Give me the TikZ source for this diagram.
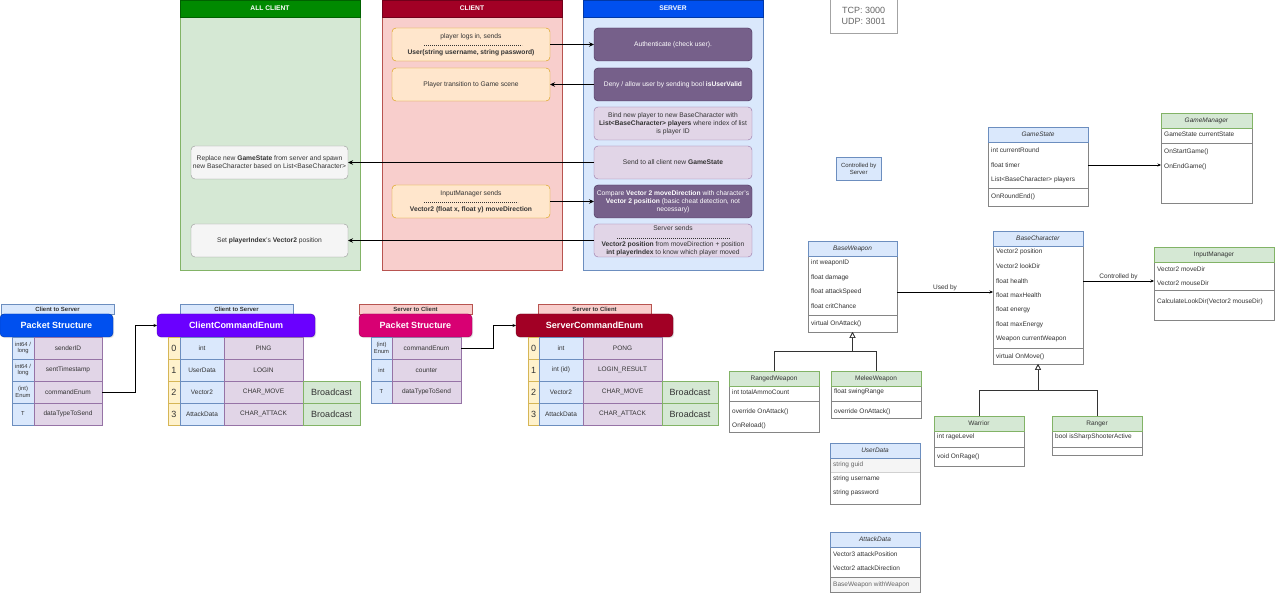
\documentclass[tikz,border=0pt]{standalone}
\usepackage{fontspec}
\setmainfont{Liberation Sans}
\usetikzlibrary{arrows.meta,shadows}
\definecolor{hgreen}{HTML}{008A00}
\definecolor{lgreen}{HTML}{D5E8D4}
\definecolor{dgreen}{HTML}{82B366}
\definecolor{hred}{HTML}{A20025}
\definecolor{lred}{HTML}{F8CECC}
\definecolor{dred}{HTML}{B85450}
\definecolor{hblue}{HTML}{0050EF}
\definecolor{lblue}{HTML}{DAE8FC}
\definecolor{dblue}{HTML}{6C8EBF}
\definecolor{lorange}{HTML}{FFE6CC}
\definecolor{dorange}{HTML}{D79B00}
\definecolor{lgray}{HTML}{F5F5F5}
\definecolor{dgray}{HTML}{666666}
\definecolor{ppurple}{HTML}{76608A}
\definecolor{ppurpled}{HTML}{432D57}
\definecolor{lpurple}{HTML}{E1D5E7}
\definecolor{dpurple}{HTML}{9673A6}
\definecolor{violettwo}{HTML}{6A00FF}
\definecolor{magentatwo}{HTML}{D80073}
\definecolor{lyellow}{HTML}{FFF2CC}
\definecolor{dyellow}{HTML}{D6B656}
\definecolor{txt}{HTML}{333333}
\newcommand\szm{\fontsize{6.7}{8}\selectfont}
\newcommand\szc{\fontsize{6.5}{8}\selectfont}
\newcommand\szs{\fontsize{5.8}{6.6}\selectfont}
\newcommand\szt{\fontsize{6}{7}\selectfont}
\newcommand\szl{\fontsize{9}{10.7}\selectfont}
\begin{document}
\begin{tikzpicture}[x=1pt,y=-1pt,
  shd/.style={drop shadow={opacity=0.2,shadow xshift=1.2pt,shadow yshift=-1.2pt}},
  lanehead/.style={anchor=north west,inner sep=0pt,outer sep=0pt,minimum width=180pt,minimum height=17pt,text=white,font=\szm\bfseries},
  lanebody/.style={anchor=north west,inner sep=0pt,outer sep=0pt,minimum width=180pt,minimum height=253pt,draw,shd},
  fbox/.style={anchor=north west,draw,rounded corners=4pt,inner sep=1pt,outer sep=0pt,minimum width=158pt,minimum height=33pt,align=center,font=\szm,text=txt},
  obox/.style={fbox,fill=lorange,draw=dorange},
  gbox/.style={fbox,fill=lgray,draw=dgray!70,minimum width=157pt},
  dbox/.style={fbox,fill=ppurple,draw=ppurpled,text=white},
  lbox/.style={fbox,fill=lpurple,draw=dpurple},
  bigarrow/.style={line width=1.1pt,-{Stealth[length=5pt,width=4.5pt]}},
  dline/.style={dash pattern=on 1.4pt off 0.6pt,line width=0.35pt,draw=txt},
  tcell/.style={anchor=north west,draw,inner sep=0pt,outer sep=0pt,align=center,font=\szc,text=txt,minimum height=22pt},
  bcell/.style={tcell,fill=lblue,draw=dblue},
  pcell/.style={tcell,fill=lpurple,draw=dpurple},
  ycell/.style={tcell,fill=lyellow,draw=dyellow,font=\szl},
  gcell/.style={tcell,fill=lgreen,draw=dgreen,font=\szl},
  ptab/.style={anchor=north west,draw,inner sep=0pt,outer sep=0pt,minimum height=10pt,minimum width=113pt,font=\szt\bfseries,text=txt},
  phead/.style={anchor=north west,rounded corners=4pt,inner sep=0pt,outer sep=0pt,minimum height=23pt,text=white,font=\szl\bfseries,shd},
  thinarrow/.style={draw=black,line width=0.5pt,-{Stealth[length=3.5pt,width=3pt]}},
  cbody/.style={anchor=north west,draw=dgray!80,fill=white,inner sep=0pt,outer sep=0pt,minimum width=89pt,shd},
  chb/.style={anchor=north west,draw=dblue,fill=lblue,inner sep=0pt,outer sep=0pt,minimum width=89pt,minimum height=15pt,font=\szc,text=txt},
  chg/.style={chb,draw=dgreen,fill=lgreen},
  crow/.style={anchor=west,inner sep=0pt,font=\szc,text=txt},
  csep/.style={draw=dgray!80,line width=0.5pt},
  inherit/.style={draw=txt,line width=0.6pt,-{Triangle[open,length=6pt,width=6pt]}},
  clabel/.style={font=\szc,text=txt,inner sep=1pt}
]
\useasboundingbox[fill=white] (0,0) rectangle (1280,601);

% ---------- swimlanes ----------
\node[lanebody,fill=lgreen,draw=dgreen] (allb) at (180,17) {};
\node[lanehead,fill=hgreen,draw=hgreen!70!black] (allh) at (180,0) {ALL CLIENT};
\node[lanebody,fill=lred,draw=dred] (clb) at (382,17) {};
\node[lanehead,fill=hred,draw=hred!70!black] (clh) at (382,0) {CLIENT};
\node[lanebody,fill=lblue,draw=dblue] (svb) at (583,17) {};
\node[lanehead,fill=hblue,draw=hblue!70!black] (svh) at (583,0) {SERVER};

% client boxes
\node[obox] (c1) at (392,28) {player logs in, sends\\[8pt]\textbf{User(string username, string password)}};
\draw[dline] (424,45) -- (522,45);
\node[obox] (c2) at (392,68) {Player transition to Game scene};
\node[obox] (c3) at (392,185) {InputManager sends\\[8pt]\textbf{Vector2 (float x, float y) moveDirection}};
\draw[dline] (424,202) -- (518,202);

% all client boxes
\node[gbox] (a1) at (191,146) {Replace new \textbf{GameState} from server and spawn\\new BaseCharacter based on List<BaseCharacter>};
\node[gbox] (a2) at (191,224) {Set \textbf{playerIndex}'s \textbf{Vector2} position};

% server boxes
\node[dbox] (s1) at (594,28) {Authenticate (check user).};
\node[dbox] (s2) at (594,68) {Deny / allow user by sending bool \textbf{isUserValid}};
\node[lbox] (s3) at (594,107) {Bind new player to new BaseCharacter with\\\textbf{List<BaseCharacter> players} where index of list\\is player ID};
\node[lbox] (s4) at (594,146) {Send to all client new \textbf{GameState}};
\node[dbox] (s5) at (594,185) {Compare \textbf{Vector 2 moveDirection} with character's\\\textbf{Vector 2 position} (basic cheat detection, not\\necessary)};
\node[lbox,font=\fontsize{6.7}{7.4}\selectfont] (s6) at (594,224) {Server sends\\[9.5pt]\textbf{Vector2 position} from moveDirection + position\\\textbf{int playerIndex} to know which player moved};
\draw[dline] (617,238) -- (730,238);

% lane arrows
\draw[bigarrow] (c1.east) -- (s1.west);
\draw[bigarrow] (s2.west) -- (c2.east);
\draw[bigarrow] (s4.west) -- (a1.east);
\draw[bigarrow] (c3.east) -- (s5.west);
\draw[bigarrow] (s6.west) -- (a2.east);

% TCP box and note
\node[anchor=north west,draw=dgray!60,fill=white,minimum width=67pt,minimum height=34pt,align=center,font=\szl,text=dgray,inner sep=0pt,shd] (tcp) at (830,-1) {TCP: 3000\\UDP: 3001};
\node[anchor=north west,draw=dblue,fill=lblue,minimum width=45pt,minimum height=23pt,inner sep=0pt,align=center,font=\szt,text=txt,shd] (cbs) at (836,157) {Controlled by\\Server};

% ---------- packet structure: client to server ----------
\node[ptab,fill=lblue,draw=dblue] (cptab) at (1,304) {Client to Server};
\node[phead,fill=hblue,draw=hblue!70!black,minimum width=113pt] (cph) at (0,314) {Packet Structure};
\foreach \a/\b [count=\k from 0] in {{int64 /\\long}/senderID,{int64 /\\long}/sentTimestamp,{(int)\\Enum}/commandEnum,T/dataTypeToSend} {
  \node[bcell,minimum width=22pt,font=\szs] (cpa\k) at (12,{337+22*\k}) {\a};
  \node[pcell,minimum width=68pt] (cpb\k) at (34,{337+22*\k}) {\b};
}
\node[ptab,fill=lblue,draw=dblue] (cctab) at (180,304) {Client to Server};
\node[phead,fill=violettwo,draw=violettwo!70!black,minimum width=158pt] (cceh) at (157,314) {ClientCommandEnum};
\foreach \n/\ty/\m [count=\k from 0] in {0/int/PING,1/UserData/LOGIN,2/Vector2/CHAR\_MOVE,3/AttackData/CHAR\_ATTACK} {
  \node[ycell,minimum width=12pt] (ccn\k) at (168,{337+22*\k}) {\n};
  \node[bcell,minimum width=44pt] (cct\k) at (180,{337+22*\k}) {\ty};
  \node[pcell,minimum width=79pt] (ccm\k) at (224,{337+22*\k}) {\m};
}
\node[gcell,minimum width=57pt] (ccb2) at (303,381) {Broadcast};
\node[gcell,minimum width=57pt] (ccb3) at (303,403) {Broadcast};
\draw[thinarrow] (cpb2.east) -- ++(33,0) |- (cceh.west);

% ---------- packet structure: server to client ----------
\node[ptab,fill=lred,draw=dred] (sptab) at (359,304) {Server to Client};
\node[phead,fill=magentatwo,draw=magentatwo!70!black,minimum width=113pt] (sph) at (359,314) {Packet Structure};
\foreach \a/\b [count=\k from 0] in {{(int)\\Enum}/commandEnum,int/counter,T/dataTypeToSend} {
  \node[bcell,minimum width=21pt,font=\szs] (spa\k) at (371,{337+22*\k}) {\a};
  \node[pcell,minimum width=69pt] (spb\k) at (392,{337+22*\k}) {\b};
}
\node[ptab,fill=lred,draw=dred] (sctab) at (538,304) {Server to Client};
\node[phead,fill=hred,draw=hred!70!black,minimum width=157pt] (scch) at (516,314) {ServerCommandEnum};
\foreach \n/\ty/\m [count=\k from 0] in {0/int/PONG,1/int (id)/LOGIN\_RESULT,2/Vector2/CHAR\_MOVE,3/AttackData/CHAR\_ATTACK} {
  \node[ycell,minimum width=11pt] (scn\k) at (528,{337+22*\k}) {\n};
  \node[bcell,minimum width=44pt] (sct\k) at (539,{337+22*\k}) {\ty};
  \node[pcell,minimum width=79pt] (scm\k) at (583,{337+22*\k}) {\m};
}
\node[gcell,minimum width=56pt] (scb2) at (662,381) {Broadcast};
\node[gcell,minimum width=56pt] (scb3) at (662,403) {Broadcast};
\draw[thinarrow] (spb0.east) -- ++(32,0) |- (scch.west);

% ---------- class diagram ----------
% BaseWeapon
\node[cbody,minimum height=91pt] (bw) at (808,241) {};
\node[chb] (bwh) at (808,241) {\textit{BaseWeapon}};
\foreach \lbl [count=\k] in {int weaponID,float damage,float attackSpeed,float critChance}
  \node[crow] (bw\k) at (811,{263+14.5*(\k-1)}) {\lbl};
\draw[csep] (808,315) -- (897,315);
\node[crow] (bwm1) at (811,324) {virtual OnAttack()};

% RangedWeapon
\node[cbody,minimum width=90pt,minimum height=61pt] (rw) at (729,371) {};
\node[chg,minimum width=90pt] (rwh) at (729,371) {RangedWeapon};
\node[crow] (rw1) at (732,392) {int totalAmmoCount};
\draw[csep] (729,401) -- (819,401);
\node[crow] (rwm1) at (732,412) {override OnAttack()};
\node[crow] (rwm2) at (732,426) {OnReload()};

% MeleeWeapon
\node[cbody,minimum width=90pt,minimum height=47pt] (mw) at (831,371) {};
\node[chg,minimum width=90pt] (mwh) at (831,371) {MeleeWeapon};
\node[crow] (mw1) at (834,392) {float swingRange};
\draw[csep] (831,401) -- (921,401);
\node[crow] (mwm1) at (834,412) {override OnAttack()};

\draw[inherit] (rwh.north) -- ++(0,-20) -| (bw.south);
\draw[inherit] (mwh.north) -- ++(0,-20) -| (bw.south);

% GameState
\node[cbody,minimum width=100pt,minimum height=79pt] (gs) at (988,127) {};
\node[chb,minimum width=100pt] (gsh) at (988,127) {\textit{GameState}};
\foreach \lbl [count=\k] in {int currentRound,float timer,List<BaseCharacter> players}
  \node[crow] (gs\k) at (991,{150.5+14.5*(\k-1)}) {\lbl};
\draw[csep] (988,188) -- (1088,188);
\node[crow] (gsm1) at (991,197) {OnRoundEnd()};

% GameManager
\node[cbody,minimum width=91pt,minimum height=90pt] (gm) at (1161,113) {};
\node[chg,minimum width=91pt] (gmh) at (1161,113) {\textit{GameManager}};
\node[crow] (gm1) at (1164,134) {GameState currentState};
\draw[csep] (1161,143) -- (1252,143);
\node[crow] (gmm1) at (1164,152) {OnStartGame()};
\node[crow] (gmm2) at (1164,167) {OnEndGame()};
\draw[thinarrow] (gs.east |- gs2) -- (gm.west |- gs2);

% BaseCharacter
\node[cbody,minimum width=90pt,minimum height=133pt] (bc) at (993,231) {};
\node[chb,minimum width=90pt] (bch) at (993,231) {\textit{BaseCharacter}};
\foreach \lbl [count=\k] in {Vector2 position,Vector2 lookDir,float health,float maxHealth,float energy,float maxEnergy,Weapon currentWeapon}
  \node[crow] (bc\k) at (996,{252+14.5*(\k-1)}) {\lbl};
\draw[csep] (993,348) -- (1083,348);
\node[crow] (bcm1) at (996,357) {virtual OnMove()};

% InputManager
\node[cbody,minimum width=120pt,minimum height=73pt] (im) at (1154,247) {};
\node[chg,minimum width=120pt] (imh) at (1154,247) {InputManager};
\node[crow] (im1) at (1157,269) {Vector2 moveDir};
\node[crow] (im2) at (1157,283) {Vector2 mouseDir};
\draw[csep] (1154,290) -- (1274,290);
\node[crow] (imm1) at (1157,302) {CalculateLookDir(Vector2 mouseDir)};

\draw[thinarrow] (bw.east |- bw3) -- node[clabel,above] (usedby) {Used by} (bc.west |- bw3);
\draw[thinarrow] (bc.east |- bc3) -- node[clabel,above] (ctrlby) {Controlled by} (im.west |- bc3);

% Warrior
\node[cbody,minimum width=90pt,minimum height=50pt] (wa) at (934,416) {};
\node[chg,minimum width=90pt] (wah) at (934,416) {Warrior};
\node[crow] (wa1) at (937,437) {int rageLevel};
\draw[csep] (934,447) -- (1024,447);
\node[crow] (wam1) at (937,457) {void OnRage()};

% Ranger
\node[cbody,minimum width=90pt,minimum height=39pt] (ra) at (1052,416) {};
\node[chg,minimum width=90pt] (rah) at (1052,416) {Ranger};
\node[crow] (ra1) at (1055,437) {bool isSharpShooterActive};
\draw[csep] (1052,447) -- (1142,447);

\draw[inherit] (wah.north) -- ++(0,-26) -| (bc.south);
\draw[inherit] (rah.north) -- ++(0,-26) -| (bc.south);

% UserData
\node[cbody,minimum width=90pt,minimum height=61pt] (ud) at (830,443) {};
\fill[lgray] (830.5,458) rectangle (919.5,472);
\draw[csep,draw=dgray!30] (830.5,472) -- (919.5,472);
\node[chb,minimum width=90pt] (udh) at (830,443) {\textit{UserData}};
\node[crow,text=dgray] (ud1) at (833,465) {string guid};
\node[crow] (ud2) at (833,479) {string username};
\node[crow] (ud3) at (833,493) {string password};

% AttackData
\node[cbody,minimum width=90pt,minimum height=60pt] (ad) at (830,532) {};
\node[chb,minimum width=90pt] (adh) at (830,532) {\textit{AttackData}};
\node[crow] (ad1) at (833,554) {Vector3 attackPosition};
\node[crow] (ad2) at (833,568) {Vector2 attackDirection};
\draw[csep,fill=lgray] (830,577) rectangle (920,592);
\node[crow,text=dgray] (ad3) at (833,584.5) {BaseWeapon withWeapon};

\end{tikzpicture}
\end{document}
